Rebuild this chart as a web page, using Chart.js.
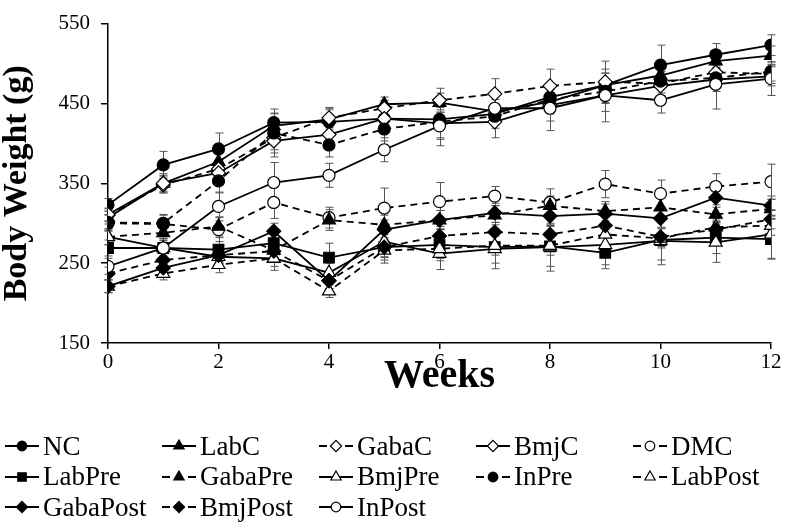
<!DOCTYPE html>
<html><head><meta charset="utf-8">
<script src="https://cdn.jsdelivr.net/npm/chart.js@4.4.0/dist/chart.umd.min.js"></script>
<style>
html,body{margin:0;padding:0;background:#fff;}
#wrap{position:relative;width:792px;height:530px;overflow:hidden;}
#c{position:absolute;left:0;top:0;}
#legend{position:absolute;left:4px;top:431px;display:grid;grid-template-columns:repeat(5,157px);grid-auto-rows:30.5px;font-family:'Liberation Serif','Times New Roman',serif;font-size:27px;color:#000;}
.item{display:flex;align-items:center;white-space:nowrap;}
.item canvas{margin-right:3px;}
</style></head><body>
<div id="wrap"><canvas id="c" width="792" height="530"></canvas><div id="legend"></div></div>
<script>
// ---- data ----
const weeks = [0,1,2,3,4,5,6,7,8,9,10,11,12];
const xTicks = [0,2,4,6,8,10,12];
const yTicks = [150,250,350,450,550];

const NC       = [323,373,393,426,427,431,430,437,458,473,498,511,523];
const LabC     = [307,350,377,422,430,449,451,440,452,473,485,503,510];
const GabaC    = [310,348,368,407,432,444,454,462,472,477,475,489,487];
const BmjC     = [311,350,363,403,411,431,425,427,448,460,472,480,484];
const DMC      = [300,299,292,326,307,319,327,334,326,349,337,346,352];
const LabPre   = [269,269,267,275,257,270,273,270,271,263,279,282,280];
const GabaPre  = [283,288,296,266,304,298,304,310,322,315,320,311,318];
const BmjPre   = [283,269,258,256,238,277,262,268,270,273,278,276,286];
const InPre    = [301,300,353,413,398,418,427,434,455,465,478,482,490];
const LabPost  = [221,237,248,256,215,266,268,272,272,286,281,295,297];
const GabaPost = [221,244,260,290,228,292,304,313,309,312,306,332,322];
const BmjPost  = [237,254,260,265,228,270,284,289,286,297,283,292,305];
const InPost   = [246,269,321,351,360,392,422,444,444,460,454,474,481];

const NC_err       = [8,17,20,17,18,9,12,12,12,15,25,14,13];
const LabC_err     = [8,10,12,15,12,9,12,15,15,15,15,12,12];
const GabaC_err    = [8,10,12,15,12,10,15,19,21,26,15,14,12];
const BmjC_err     = [8,12,15,20,15,12,20,20,20,20,16,15,12];
const DMC_err      = [10,12,15,20,13,25,24,12,17,17,17,16,22];
const LabPre_err   = [10,12,15,18,18,20,20,20,25,20,25,20,25];
const GabaPre_err  = [10,10,12,15,13,12,12,12,12,12,12,12,12];
const BmjPre_err   = [10,10,12,15,12,20,20,25,30,25,30,25,30];
const InPre_err    = [10,10,15,25,15,15,20,15,15,15,15,12,12];
const LabPost_err  = [8,8,10,10,8,12,12,12,12,12,12,12,12];
const GabaPost_err = [8,8,10,10,10,12,12,12,12,12,12,12,12];
const BmjPost_err  = [8,8,10,10,10,12,12,12,12,12,12,12,12];
const InPost_err   = [10,12,18,25,15,15,25,20,28,33,16,31,21];

const seriesNames = ['NC','LabC','GabaC','BmjC','DMC','LabPre','GabaPre','BmjPre','InPre','LabPost','GabaPost','BmjPost','InPost'];
const seriesValues = [NC,LabC,GabaC,BmjC,DMC,LabPre,GabaPre,BmjPre,InPre,LabPost,GabaPost,BmjPost,InPost];
const seriesErrors = [NC_err,LabC_err,GabaC_err,BmjC_err,DMC_err,LabPre_err,GabaPre_err,BmjPre_err,InPre_err,LabPost_err,GabaPost_err,BmjPost_err,InPost_err];
// style per series: [dashed, pointStyle, filled]
const seriesStyle = [
  [false,'circle',true],[false,'triangle',true],[true,'rectRot',false],[false,'rectRot',false],[true,'circle',false],
  [false,'rect',true],[true,'triangle',true],[false,'triangle',false],[true,'circle',true],[true,'triangle',false],
  [false,'rectRot',true],[true,'rectRot',true],[false,'circle',false]
];
const radiusFor = {circle:6, triangle:7.5, rect:7.5, rectRot:7};

const FONT = "'Liberation Serif','Times New Roman',serif";

const datasets = seriesNames.map((name,i)=>{
  const [dashed, ps, filled] = seriesStyle[i];
  return {
    label: name,
    data: weeks.map((w,j)=>({x:w, y:seriesValues[i][j]})),
    err: seriesErrors[i],
    borderColor:'#000',
    borderWidth:1.8,
    borderDash: dashed ? [7,5] : [],
    pointStyle: ps,
    pointRadius: radiusFor[ps],
    pointBackgroundColor: filled ? '#000' : '#fff',
    pointBorderColor:'#000',
    pointBorderWidth:1.2,
    tension:0,
    fill:false,
    order: seriesNames.length - i
  };
});

const errorBars = {
  id:'errorBars',
  beforeDatasetsDraw(chart){
    const ctx = chart.ctx, xs = chart.scales.x, ys = chart.scales.y;
    ctx.save();
    ctx.strokeStyle = '#555';
    ctx.lineWidth = 1;
    chart.data.datasets.forEach(ds=>{
      ds.data.forEach((p,j)=>{
        const e = ds.err[j];
        const x = Math.round(xs.getPixelForValue(p.x))+0.5;
        const y1 = ys.getPixelForValue(p.y+e), y2 = ys.getPixelForValue(p.y-e);
        ctx.beginPath();
        ctx.moveTo(x,y1); ctx.lineTo(x,y2);
        ctx.moveTo(x-4,y1); ctx.lineTo(x+4,y1);
        ctx.moveTo(x-4,y2); ctx.lineTo(x+4,y2);
        ctx.stroke();
      });
    });
    ctx.restore();
  }
};

new Chart(document.getElementById('c'), {
  type:'line',
  data:{datasets},
  plugins:[errorBars],
  options:{
    responsive:false, animation:false, devicePixelRatio:1,
    layout:{padding:{left:0,right:21,top:11,bottom:129}},
    plugins:{legend:{display:false}, tooltip:{enabled:false}},
    scales:{
      x:{type:'linear', min:0, max:12,
        afterBuildTicks(s){ s.ticks = xTicks.map(v=>({value:v})); },
        ticks:{font:{family:FONT,size:21}, color:'#000', padding:1},
        grid:{drawOnChartArea:false, drawTicks:true, tickLength:6, color:'#000', lineWidth:1.5},
        border:{display:true, color:'#000', width:1.5},
        title:{display:true, text:'Weeks', font:{family:FONT,size:40,weight:'bold'}, color:'#000', padding:0},
        afterFit(s){ s.height = 58; }
      },
      y:{min:150, max:550,
        afterBuildTicks(s){ s.ticks = yTicks.map(v=>({value:v})); },
        ticks:{font:{family:FONT,size:21}, color:'#000', padding:11},
        grid:{drawOnChartArea:false, drawTicks:true, tickLength:7, color:'#000', lineWidth:1.5},
        border:{display:true, color:'#000', width:1.5},
        title:{display:true, text:'Body Weight (g)', font:{family:FONT,size:34,weight:'bold'}, color:'#000', padding:{top:-3,bottom:0}},
        afterFit(s){ s.width = 108; }
      }
    }
  }
});

// ---- legend ----
function drawMarker(ctx, ps, r, x, y){
  ctx.beginPath();
  if(ps==='circle'){ ctx.arc(x,y,r,0,Math.PI*2); }
  else if(ps==='triangle'){
    for(let k=0;k<3;k++){ const a = k*2*Math.PI/3; const px=x+Math.sin(a)*r, py=y-Math.cos(a)*r; k?ctx.lineTo(px,py):ctx.moveTo(px,py); }
    ctx.closePath();
  } else if(ps==='rect'){ const s=r*Math.SQRT1_2; ctx.rect(x-s,y-s,2*s,2*s); }
  else if(ps==='rectRot'){ const s=r; ctx.moveTo(x,y-s); ctx.lineTo(x+s,y); ctx.lineTo(x,y+s); ctx.lineTo(x-s,y); ctx.closePath(); }
  ctx.fill(); ctx.stroke();
}
const leg = document.getElementById('legend');
seriesNames.forEach((name,i)=>{
  const [dashed, ps, filled] = seriesStyle[i];
  const item = document.createElement('div'); item.className='item';
  const cv = document.createElement('canvas'); cv.width=36; cv.height=30;
  const g = cv.getContext('2d');
  g.strokeStyle='#000'; g.lineWidth=1.8;
  g.beginPath();
  if(dashed){ g.moveTo(1,15); g.lineTo(9,15); g.moveTo(27,15); g.lineTo(35,15); }
  else { g.moveTo(1,15); g.lineTo(35,15); }
  g.stroke();
  g.lineWidth=1.2; g.fillStyle = filled?'#000':'#fff';
  drawMarker(g, ps, radiusFor[ps]*0.8, 18, 15);
  const sp = document.createElement('span'); sp.textContent = name;
  item.appendChild(cv); item.appendChild(sp);
  leg.appendChild(item);
});
</script>
</body></html>
